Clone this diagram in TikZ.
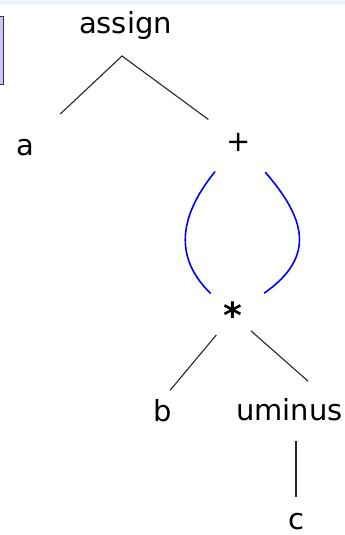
\documentclass[tikz,border=0pt]{standalone}
\usepackage{fontspec}
\setmainfont{DejaVu Sans}
\usepackage{xcolor}
\usepackage{tikz}
\usetikzlibrary{positioning}
\definecolor{slidebar}{RGB}{240,244,250}
\definecolor{boxfill}{RGB}{200,200,255}
\tikzset{
  lbl/.style={font=\fontsize{29}{30}\selectfont, inner sep=0pt, anchor=base},
  op/.style={font=\fontsize{29}{30}\selectfont, inner sep=0pt},
  te/.style={draw=black!85, line width=1.1pt},
  de/.style={draw=blue, line width=1.6pt},
  slide/.style={x=1pt, y=-1pt}
}
\begin{document}
\begin{tikzpicture}[slide]
        \useasboundingbox (0,0) rectangle (345,535);
        \fill[slidebar] (0,0) rectangle (345,5);
        \draw[draw=black!80, fill=boxfill, line width=1.5pt] (-10,16.5) rectangle (3.5,84.5);
        \node[lbl] (assign) at (125.5,34) {assign};
        \coordinate (j) at (122,56);
        \node[lbl] (a) at (25,155) {a};
        \node[op] (plus) at (239,142) {+};
        \node[op, font=\fontsize{36}{36}\bfseries] (star) at (233,315) {*};
        \node[lbl] (b) at (163,421) {b};
        \node[lbl] (um) at (289.5,420) {uminus};
        \node[lbl] (c) at (296,529) {c};
        \draw[te, shorten <=36pt, shorten >=38pt] (a.north east) -- (j) -- (plus.center);
        \draw[de, shorten <=38pt, shorten >=31pt] (plus.center) to[out=231, in=136, looseness=1.3] (star.center);
        \draw[de, shorten <=40pt, shorten >=38pt] (plus.center) to[out=311, in=35, looseness=1.5] (star.center);
        \draw[te, shorten <=26pt, shorten >=11pt] (star.center) -- (b.north);
        \draw[te, shorten <=24pt, shorten >=25pt] (star.center) -- (um.17);
        \draw[te, shorten <=20pt, shorten >=16pt] (c.north |- um.south) -- (c.north);
      \end{tikzpicture}
\end{document}
